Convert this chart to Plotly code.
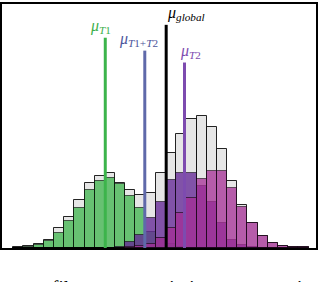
import numpy as np
import plotly.graph_objects as go

# ---- data (x in bin units) ----
bin_centers = list(np.arange(29) + 0.5)
global_counts = [0.7, 2, 4, 8, 20, 31, 48, 66, 73, 76, 66, 58, 53, 55, 76, 96, 115, 130, 133, 122, 100, 68, 43, 25, 12, 5, 2, 1.3, 1]
t1_counts = [0.3, 1, 3, 7, 15, 27, 40, 58, 68, 71, 65, 52, 40, 16, 10, 4, 1, 0, 0, 0, 0, 0, 0, 0, 0, 0, 0, 0, 0]
t2_counts = [0, 0, 0, 0, 0, 0, 0, 0, 0, 0, 1.5, 6, 13, 30, 46, 69, 76, 76, 63, 46, 25, 8, 3, 1, 0, 0, 0, 0, 0]
t3_counts = [0, 0, 0, 0, 0, 0, 0, 0, 0, 0, 0, 1, 2, 4, 10, 20, 35, 50, 70, 78, 78, 60, 41, 25, 12, 5, 2, 1.3, 1]

mean_names = ["T1", "T1+T2", "global", "T2"]
mean_values = [9.04, 12.92, 15.02, 16.82]
mean_line_tops = [212, 199, 225, 187]
mean_colors = ["rgb(60,180,75)", "rgb(95,105,170)", "rgb(0,0,0)", "rgb(125,75,175)"]
label_texts = ["<i>μ</i><sub><i>T</i>1</sub>",
               "<i>μ</i><sub><i>T</i>1+<i>T</i>2</sub>",
               "<i>μ</i><sub><i>global</i></sub>",
               "<i>μ</i><sub><i>T</i>2</sub>"]
label_colors = ["rgb(60,175,75)", "rgb(75,85,155)", "rgb(0,0,0)", "rgb(125,75,175)"]
label_xshift = [-4.5, -6, 20, 6]

caption = "our filters, we so mimic once more, is a d"

fig = go.Figure()

def add_hist(counts, fill, edge):
    fig.add_trace(go.Bar(x=bin_centers, y=counts, width=1.0,
                         marker=dict(color=fill, line=dict(color=edge, width=1)),
                         showlegend=False, hoverinfo="skip"))

add_hist(global_counts, "rgb(230,230,230)", "rgba(0,0,0,0.85)")
add_hist(t1_counts, "rgba(60,180,75,0.75)", "rgba(0,0,0,0.6)")
add_hist(t2_counts, "rgba(100,40,150,0.78)", "rgba(0,0,0,0.55)")
add_hist(t3_counts, "rgba(165,45,150,0.75)", "rgba(0,0,0,0.55)")

for v, top, c in zip(mean_values, mean_line_tops, mean_colors):
    fig.add_trace(go.Scatter(x=[v, v], y=[0, top], mode="lines",
                             line=dict(color=c, width=3),
                             showlegend=False, hoverinfo="skip"))

for v, top, t, c, xs in zip(mean_values, mean_line_tops, label_texts, label_colors, label_xshift):
    fig.add_annotation(x=v, y=top, xref="x", yref="y", text=t, showarrow=False,
                       xanchor="center", yanchor="bottom", xshift=xs, yshift=0,
                       font=dict(family="Liberation Serif", size=16, color=c))

fig.add_annotation(x=0.057, y=-0.112, xref="paper", yref="paper", text=caption,
                   showarrow=False, xanchor="left", yanchor="top",
                   font=dict(family="Liberation Serif", size=19, color="black"))

fig.update_layout(
    width=320, height=282, autosize=False,
    margin=dict(l=2, r=2, t=2, b=34),
    paper_bgcolor="white", plot_bgcolor="white",
    barmode="overlay", bargap=0,
    xaxis=dict(range=[-1.10, 29.73], showticklabels=False, ticks="", showgrid=False,
               zeroline=False, showline=True, mirror=True, linecolor="black", linewidth=1.5),
    yaxis=dict(range=[0, 246], showticklabels=False, ticks="", showgrid=False,
               zeroline=False, showline=True, mirror=True, linecolor="black", linewidth=1.5),
)

fig.write_html("out.html", config={"responsive": False, "displayModeBar": False},
               post_script="document.body.style.margin='0';document.body.style.overflow='hidden';")
